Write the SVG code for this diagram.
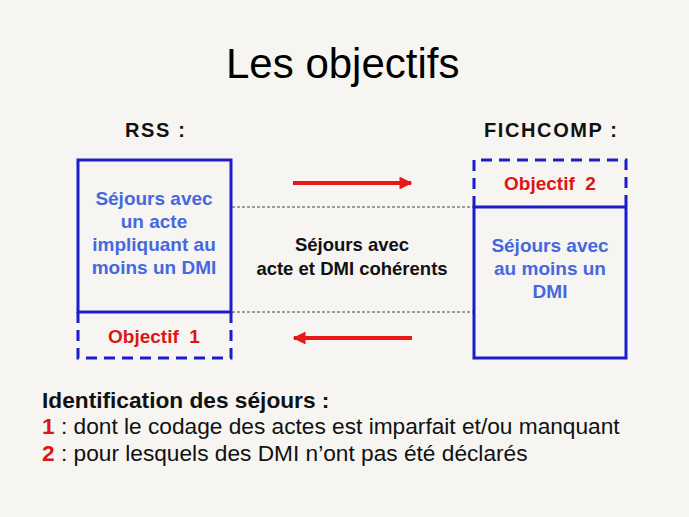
<svg xmlns="http://www.w3.org/2000/svg" width="689" height="517" viewBox="0 0 689 517">
<defs>
<style>
text{font-family:"Liberation Sans",Arial,sans-serif}
.t{font-size:42px;fill:#000}
.h{font-size:20px;font-weight:bold;fill:#111}
.b{font-size:19px;font-weight:bold;fill:#4668de;text-anchor:middle}
.c{font-size:18.5px;font-weight:bold;fill:#111;text-anchor:middle}
.r{font-size:19px;font-weight:bold;fill:#dd1515;text-anchor:middle}
.box{fill:none;stroke:#1c1ccc;stroke-width:3}
.dash{fill:none;stroke:#1c1ccc;stroke-width:3;stroke-dasharray:11,7}
.dot{stroke:#444;stroke-width:1;stroke-dasharray:3,2}
.arr{stroke:#e81818;stroke-width:4}
.l{font-size:22.7px;fill:#111}
.n{font-weight:bold;fill:#dd1515}
</style>
<marker id="ah" viewBox="0 0 10 10" refX="9" refY="5" markerWidth="3.2" markerHeight="3.2" orient="auto">
<path d="M0,0 L10,5 L0,10 z" fill="#e81818"/>
</marker>
</defs>
<rect width="689" height="517" fill="#f6f5f2"/>
<text class="t" x="226" y="78">Les objectifs</text>
<text class="h" x="125" y="137" textLength="60">RSS :</text>
<text class="h" x="484" y="137" textLength="133">FICHCOMP :</text>
<g id="rss">
<rect class="box" x="78" y="160" width="153" height="152"/>
<text class="b" x="154" y="205">Séjours avec</text>
<text class="b" x="154" y="228">un acte</text>
<text class="b" x="154" y="251">impliquant au</text>
<text class="b" x="154" y="274">moins un DMI</text>
</g>
<g id="objectif1">
<path class="dash" d="M78,312 V358 H231 V312"/>
<text class="r" x="154" y="343">Objectif&#160; 1</text>
</g>
<g id="fichcomp">
<rect class="box" x="474" y="207" width="152" height="151"/>
<text class="b" x="550" y="252">Séjours avec</text>
<text class="b" x="550" y="275">au moins un</text>
<text class="b" x="550" y="298">DMI</text>
</g>
<g id="objectif2">
<path class="dash" d="M474,207 V160 H626 V207"/>
<text class="r" x="550" y="190">Objectif&#160; 2</text>
</g>
<g id="coherent">
<text class="c" x="352" y="251">Séjours avec</text>
<text class="c" x="352" y="275">acte et DMI cohérents</text>
</g>
<g id="connectors">
<line class="dot" x1="232" y1="207" x2="473" y2="207"/>
<line class="dot" x1="232" y1="312" x2="473" y2="312"/>
<line class="arr" x1="293" y1="183" x2="411" y2="183" marker-end="url(#ah)"/>
<line class="arr" x1="412" y1="338" x2="294" y2="338" marker-end="url(#ah)"/>
</g>
<text class="l" x="42" y="408" font-weight="bold">Identification des séjours :</text>
<text class="l" x="42" y="434"><tspan class="n">1</tspan> : dont le codage des actes est imparfait et/ou manquant</text>
<text class="l" x="42" y="461"><tspan class="n">2</tspan> : pour lesquels des DMI n’ont pas été déclarés</text>
</svg>
